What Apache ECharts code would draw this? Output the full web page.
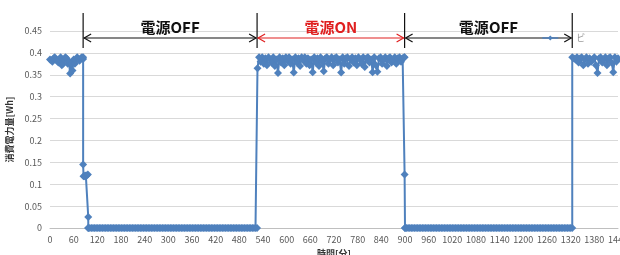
<!DOCTYPE html>
<html><head><meta charset="utf-8">
<script src="https://cdn.jsdelivr.net/npm/echarts@6/dist/echarts.min.js"></script>
<style>html,body{margin:0;padding:0;background:#fff}#c{width:620px;height:255px}</style>
</head><body><div id="c"></div>
<script>
// ---- data (time in minutes, energy in Wh) ----
var on1Start = 0, on1Step = 3;
var on1Values = [0.385,0.383,0.38,0.388,0.39,0.385,0.382,0.378,0.385,0.39,0.372,0.375,0.385,0.39,0.388,0.375,0.38,0.353,0.375,0.36,0.385,0.375,0.383,0.39,0.386,0.382,0.388,0.39,0.386];
var drop1Points = [[84,0.39],[84,0.145],[85,0.118],[87,0.118],[89,0.12],[91,0.118],[93,0.12],[96,0.122],[97,0.025],[97,0]];
var off1Start = 97, off1Step = 4;
var off1Values = [0,0,0,0,0,0,0,0,0,0,0,0,0,0,0,0,0,0,0,0,0,0,0,0,0,0,0,0,0,0,0,0,0,0,0,0,0,0,0,0,0,0,0,0,0,0,0,0,0,0,0,0,0,0,0,0,0,0,0,0,0,0,0,0,0,0,0,0,0,0,0,0,0,0,0,0,0,0,0,0,0,0,0,0,0,0,0,0,0,0,0,0,0,0,0,0,0,0,0,0,0,0,0,0,0,0,0,0];
var on2Start = 526, on2Step = 4;
var on2Values = [0.365,0.39,0.38,0.39,0.375,0.388,0.372,0.39,0.385,0.378,
0.39,0.37,0.385,0.354,0.39,0.378,0.388,0.372,0.39,0.382,
0.39,0.375,0.385,0.355,0.39,0.378,0.388,0.37,0.39,0.383,
0.39,0.375,0.388,0.372,0.385,0.356,0.39,0.378,0.388,0.37,
0.39,0.38,0.358,0.388,0.39,0.375,0.385,0.39,0.372,0.388,
0.39,0.378,0.385,0.355,0.39,0.375,0.388,0.39,0.37,0.385,
0.39,0.378,0.388,0.372,0.39,0.385,0.375,0.39,0.368,0.388,
0.39,0.378,0.385,0.356,0.39,0.372,0.357,0.388,0.39,0.375,
0.385,0.39,0.37,0.388,0.39,0.378,0.385,0.39,0.375,0.388,
0.39,0.38,0.388,0.39];
var drop2Points = [[899,0.39],[899,0.122],[900,0]];
var off2Start = 900, off2Step = 4;
var off2Values = [0,0,0,0,0,0,0,0,0,0,0,0,0,0,0,0,0,0,0,0,0,0,0,0,0,0,0,0,0,0,0,0,0,0,0,0,0,0,0,0,0,0,0,0,0,0,0,0,0,0,0,0,0,0,0,0,0,0,0,0,0,0,0,0,0,0,0,0,0,0,0,0,0,0,0,0,0,0,0,0,0,0,0,0,0,0,0,0,0,0,0,0,0,0,0,0,0,0,0,0,0,0,0,0,0,0,0];
var on3Start = 1324, on3Step = 4;
var on3Values = [0.39,0.388,0.385,0.39,0.378,0.388,0.39,0.372,0.385,0.39,
0.375,0.388,0.38,0.385,0.39,0.372,0.354,0.388,0.39,0.378,
0.385,0.39,0.372,0.388,0.39,0.378,0.356,0.39,0.38,0.388];
var xTicks = [0,60,120,180,240,300,360,420,480,540,600,660,720,780,840,900,960,1020,1080,1140,1200,1260,1320,1380,1440];
var yTicks = [0,0.05,0.1,0.15,0.2,0.25,0.3,0.35,0.4,0.45];
var phaseBounds = [84,525,899,1324];
var phaseLabels = ['電源OFF','電源ON','電源OFF'];
var phaseColors = ['#111111','#e02020','#111111'];

function seg(start, step, vals){ return vals.map(function(v,i){ return [start+i*step, v]; }); }
var data = [].concat(seg(on1Start,on1Step,on1Values), drop1Points, seg(off1Start,off1Step,off1Values),
  seg(on2Start,on2Step,on2Values), drop2Points, seg(off2Start,off2Step,off2Values), seg(on3Start,on3Step,on3Values));

var chart = echarts.init(document.getElementById('c'), null, {renderer:'canvas'});
var font = '"Noto Sans CJK JP","Noto Sans",sans-serif';
chart.setOption({
  animation:false,
  backgroundColor:'#fff',
  textStyle:{fontFamily:font},
  grid:{left:50,right:2,top:31,bottom:27,containLabel:false,outerBoundsMode:'none'},
  xAxis:{type:'value',min:0,max:1440,interval:60,
    name:'時間[分]',nameLocation:'middle',nameGap:20,
    nameTextStyle:{fontSize:9,fontWeight:'bold',color:'#333'},
    axisLine:{lineStyle:{color:'#bfbfbf'}},axisTick:{show:false},
    splitLine:{show:false},
    axisLabel:{fontSize:9,color:'#595959',margin:7,showMaxLabel:true,hideOverlap:false,
      formatter:function(v){return xTicks.indexOf(v)>=0?String(v):'';}}},
  yAxis:{type:'value',min:0,max:0.45,interval:0.05,
    name:'消費電力量[Wh]',nameLocation:'middle',nameGap:33,nameRotate:90,
    nameTextStyle:{fontSize:9,fontWeight:'bold',color:'#333'},
    axisLine:{show:false},axisTick:{show:false},
    splitLine:{lineStyle:{color:'#d9d9d9'}},
    axisLabel:{fontSize:9,color:'#595959',margin:8,
      formatter:function(v){var r=Math.round(v*100)/100; return yTicks.indexOf(r)>=0?String(r):'';}}},
  series:[{type:'line',data:data,symbol:'diamond',symbolSize:8,showSymbol:true,showAllSymbol:true,
    color:'#4f81bd',lineStyle:{width:2,color:'#4f81bd'},itemStyle:{color:'#4f81bd'},clip:false}]
});

// annotations positioned via the chart's scale
var px = phaseBounds.map(function(t){ return chart.convertToPixel({gridIndex:0},[t,0])[0]; });
var arrowY = 38, g = [];
px.forEach(function(x){
  g.push({type:'line',shape:{x1:x,y1:13,x2:x,y2:48},style:{stroke:'#111',lineWidth:1.2}});
});
for (var i=0;i<3;i++){
  var a = px[i]+1, b = px[i+1]-1, c = phaseColors[i];
  g.push({type:'line',shape:{x1:a,y1:arrowY,x2:b,y2:arrowY},style:{stroke:c,lineWidth:1.2}});
  g.push({type:'polyline',shape:{points:[[a+7,arrowY-4],[a,arrowY],[a+7,arrowY+4]]},style:{stroke:c,lineWidth:1.2,fill:null}});
  g.push({type:'polyline',shape:{points:[[b-7,arrowY-4],[b,arrowY],[b-7,arrowY+4]]},style:{stroke:c,lineWidth:1.2,fill:null}});
  g.push({type:'text',x:(a+b)/2,y:27,style:{text:phaseLabels[i],fill:c,font:'bold 15px '+font,align:'center',verticalAlign:'middle'}});
}
// partial legend remnant
g.push({type:'line',shape:{x1:px[3]-30,y1:arrowY,x2:px[3]-14,y2:arrowY},style:{stroke:'#4f81bd',lineWidth:1.5}});
g.push({type:'polygon',shape:{points:[[px[3]-22,arrowY-2.5],[px[3]-19.5,arrowY],[px[3]-22,arrowY+2.5],[px[3]-24.5,arrowY]]},style:{fill:'#4f81bd'}});
g.push({type:'text',x:px[3]+4,y:arrowY,style:{text:'ビ',fill:'#999',font:'9px '+font,align:'left',verticalAlign:'middle'}});
chart.setOption({graphic:g});
</script></body></html>
